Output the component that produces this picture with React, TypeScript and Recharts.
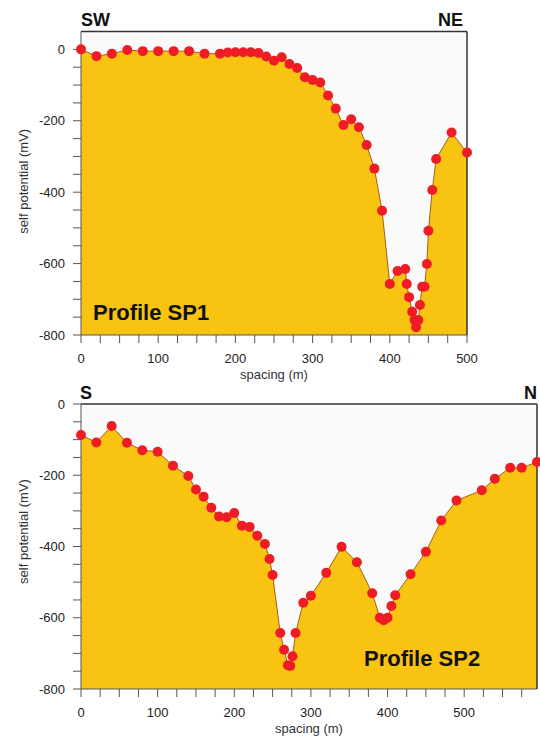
import React from 'react';
import { AreaChart, Area, XAxis, YAxis, CartesianGrid, ReferenceLine, Label } from 'recharts';

// Profile SP1 (SW -> NE)
const sp1Spacing = [
  0, 20, 40, 60, 80, 100, 120, 140, 160, 180, 190, 200, 210, 220, 230, 240, 250, 260, 270, 280,
  290, 300, 310, 320, 330, 340, 350, 360, 370, 380, 390, 400, 410, 420, 422, 425, 429, 432, 434,
  437, 439, 442, 445, 448, 450, 455, 460, 480, 500,
];
const sp1Potential = [
  0, -19, -12, -2, -5, -5, -5, -5, -12, -12, -9, -8, -8, -8, -10, -20, -32, -22, -41, -52,
  -78, -86, -93, -129, -166, -212, -196, -218, -268, -334, -452, -657, -621, -615, -657, -694, -735, -758, -778,
  -758, -716, -665, -665, -601, -508, -394, -307, -233, -289,
];

// Profile SP2 (S -> N)
const sp2Spacing = [
  0, 20, 40, 60, 80, 100, 120, 140, 150, 160, 170, 180, 190, 200, 210, 220, 230, 240, 246, 250,
  260, 265, 270, 273, 276, 280, 290, 300, 320, 340, 360, 380, 390, 395, 400, 405, 410, 430, 450,
  470, 490, 523, 540, 560, 575, 595,
];
const sp2Potential = [
  -87, -108, -62, -109, -130, -134, -173, -202, -240, -260, -291, -316, -318, -306, -342, -345, -370, -393, -435, -480,
  -643, -690, -733, -735, -708, -643, -558, -538, -474, -401, -444, -531, -600, -607, -600, -567, -537, -478, -415,
  -327, -271, -242, -210, -179, -179, -163,
];

const sp1Ticks = Array.from({ length: 21 }, (_, i) => i * 25);
const sp2Ticks = Array.from({ length: 24 }, (_, i) => i * 25);
const yTicks = Array.from({ length: 17 }, (_, i) => -800 + i * 50);

const sp1Data = sp1Spacing.map((x, i) => ({ x, v: sp1Potential[i] }));
const sp2Data = sp2Spacing.map((x, i) => ({ x, v: sp2Potential[i] }));

const FONT = '"Liberation Sans", Arial, sans-serif';
const FILL = '#f9c312';
const LINE = '#a0601a';
const DOT = '#ee1c25';
const AXIS = '#555';

const YTitle = (props: any) => {
  const { viewBox, shift } = props;
  const cx = 23;
  const cy = viewBox.y + viewBox.height / 2 + (shift || 0);
  return (
    <text x={cx} y={cy} transform={`rotate(-90 ${cx} ${cy})`} textAnchor="middle"
      dominantBaseline="central" fontSize={13} fill="#333" fontFamily={FONT}>
      self potential (mV)
    </text>
  );
};

const XTitle = (props: any) => {
  const { viewBox } = props;
  return (
    <text x={viewBox.x + viewBox.width / 2} y={viewBox.y + 43.5} textAnchor="middle"
      fontSize={13} fill="#333" fontFamily={FONT}>
      spacing (m)
    </text>
  );
};

const tickStyle = { fontSize: 13, fill: '#222', fontFamily: FONT };

const overlay = (left: number, top: number, size: number): React.CSSProperties => ({
  position: 'absolute', left, top, fontSize: size, lineHeight: `${size}px`, fontWeight: 'bold',
  fontFamily: FONT, color: '#111', whiteSpace: 'nowrap',
});

export default function App() {
  return (
    <div style={{ position: 'absolute', left: 0, top: 0, width: 540, height: 736, background: '#fff' }}>
      <div style={{ position: 'absolute', left: 0, top: 0 }}>
        <AreaChart width={540} height={392} data={sp1Data} margin={{ top: 31.5, right: 73, bottom: 0, left: 0 }}>
          <CartesianGrid horizontal={false} vertical={false} fill="#fafafa" />
          <XAxis dataKey="x" type="number" domain={[0, 500]} ticks={sp1Ticks} interval={0} height={57}
            tickSize={8} tickMargin={11} stroke={AXIS} tick={tickStyle}
            tickFormatter={(v: number) => (v % 100 === 0 ? String(v) : '')}>
            <Label content={<XTitle />} />
          </XAxis>
          <YAxis type="number" domain={[-800, 50]} ticks={yTicks} interval={0} width={81}
            tickSize={8} tickMargin={8} stroke={AXIS} tick={tickStyle}
            tickFormatter={(v: number) => (v % 200 === 0 ? String(v) : '')}>
            <Label content={<YTitle shift={-2} />} />
          </YAxis>
          <Area type="linear" dataKey="v" baseValue="dataMin" fill={FILL} fillOpacity={1} stroke={LINE}
            strokeWidth={1} dot={{ r: 5, fill: DOT, stroke: 'none' }} activeDot={false} isAnimationActive={false} />
          <ReferenceLine y={50} stroke="#333" strokeWidth={1.5} />
          <ReferenceLine x={500} stroke="#333" strokeWidth={1.5} />
        </AreaChart>
      </div>
      <div style={{ position: 'absolute', left: 0, top: 380 }}>
        <AreaChart width={540} height={356} data={sp2Data} margin={{ top: 24, right: 3, bottom: 0, left: 0 }}>
          <CartesianGrid horizontal={false} vertical={false} fill="#fafafa" />
          <XAxis dataKey="x" type="number" domain={[0, 595]} ticks={sp2Ticks} interval={0} height={47}
            tickSize={8} tickMargin={11} stroke={AXIS} tick={tickStyle}
            tickFormatter={(v: number) => (v % 100 === 0 ? String(v) : '')}>
            <Label content={<XTitle />} />
          </XAxis>
          <YAxis type="number" domain={[-800, 0]} ticks={yTicks} interval={0} width={81}
            tickSize={8} tickMargin={8} stroke={AXIS} tick={tickStyle}
            tickFormatter={(v: number) => (v % 200 === 0 ? String(v) : '')}>
            <Label content={<YTitle shift={-15} />} />
          </YAxis>
          <Area type="linear" dataKey="v" baseValue="dataMin" fill={FILL} fillOpacity={1} stroke={LINE}
            strokeWidth={1} dot={{ r: 5, fill: DOT, stroke: 'none' }} activeDot={false} isAnimationActive={false} />
          <ReferenceLine y={0} stroke="#333" strokeWidth={1.5} />
          <ReferenceLine x={595} stroke="#333" strokeWidth={1.5} />
        </AreaChart>
      </div>
      <div style={overlay(81, 10.5, 18)}>SW</div>
      <div style={overlay(438, 10.5, 18)}>NE</div>
      <div style={overlay(80, 383.8, 18)}>S</div>
      <div style={overlay(524, 383.8, 18)}>N</div>
      <div style={overlay(93, 302, 22)}>Profile SP1</div>
      <div style={overlay(364, 648, 22)}>Profile SP2</div>
    </div>
  );
}
